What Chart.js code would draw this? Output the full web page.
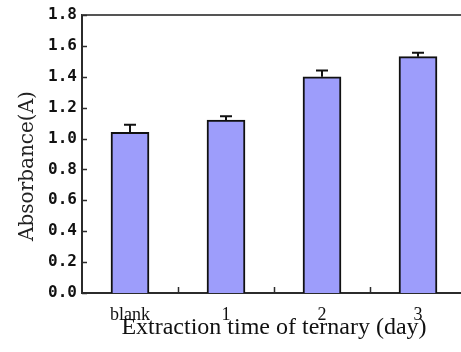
<!DOCTYPE html>
<html>
<head>
<meta charset="utf-8">
<script src="https://cdn.jsdelivr.net/npm/chart.js@4.4.0/dist/chart.umd.min.js"></script>
<style>
  html, body { margin: 0; padding: 0; background: #fff; overflow: hidden; }
  #wrap { position: relative; width: 466px; height: 352px; }
</style>
</head>
<body>
<div id="wrap"><canvas id="chart"></canvas></div>
<script>
const categories = ['blank', '1', '2', '3'];
const absorbance = [1.04, 1.12, 1.40, 1.53];
const errorUp = [0.05, 0.025, 0.04, 0.025];
const Y_MIN = 0;
const Y_MAX = 1.8;
const Y_STEP = 0.2;

const AXIS_COLOR = '#2b2b2b';
const BAR_FILL = '#9d9dfb';
const SLAB = '"DejaVu Serif", serif';
const SERIF = '"Liberation Serif", "Times New Roman", serif';

// error bars, inward tick marks, top frame line and the rotated y title
const decorations = {
  id: 'decorations',
  afterDatasetsDraw(chart) {
    const { ctx, chartArea, scales } = chart;
    const x = scales.x, y = scales.y;
    ctx.save();

    // upward error bars with caps
    ctx.strokeStyle = '#111';
    ctx.lineWidth = 2;
    chart.getDatasetMeta(0).data.forEach((bar, i) => {
      const top = y.getPixelForValue(absorbance[i] + errorUp[i]);
      ctx.beginPath();
      ctx.moveTo(bar.x, bar.y);
      ctx.lineTo(bar.x, top);
      ctx.moveTo(bar.x - 6, top);
      ctx.lineTo(bar.x + 6, top);
      ctx.stroke();
    });

    // top frame line
    ctx.strokeStyle = '#555';
    ctx.lineWidth = 2;
    ctx.beginPath();
    ctx.moveTo(chartArea.left, chartArea.top);
    ctx.lineTo(chartArea.right, chartArea.top);
    ctx.stroke();

    // inward ticks on the y axis
    ctx.strokeStyle = AXIS_COLOR;
    ctx.lineWidth = 1.5;
    y.ticks.forEach(t => {
      const py = Math.round(y.getPixelForValue(t.value)) + 0.5;
      ctx.beginPath();
      ctx.moveTo(chartArea.left, py);
      ctx.lineTo(chartArea.left + 5, py);
      ctx.stroke();
    });

    // inward ticks between categories on the x axis
    for (let i = 0; i < categories.length - 1; i++) {
      const px = Math.round((x.getPixelForTick(i) + x.getPixelForTick(i + 1)) / 2) + 0.5;
      ctx.beginPath();
      ctx.moveTo(px, chartArea.bottom);
      ctx.lineTo(px, chartArea.bottom - 6);
      ctx.stroke();
    }

    // y title
    ctx.fillStyle = '#222';
    ctx.font = '20px ' + SLAB;
    ctx.textAlign = 'center';
    ctx.textBaseline = 'alphabetic';
    ctx.translate(33, (chartArea.top + chartArea.bottom) / 2 + 12);
    ctx.rotate(-Math.PI / 2);
    ctx.fillText('Absorbance(A)', 0, 0);
    ctx.restore();
  }
};

const chart = new Chart(document.getElementById('chart').getContext('2d'), {
  type: 'bar',
  data: {
    labels: categories,
    datasets: [{
      label: 'Absorbance',
      data: absorbance,
      backgroundColor: BAR_FILL,
      borderColor: '#111',
      borderWidth: 2,
      barThickness: 38,
    }],
  },
  options: {
    responsive: true,
    maintainAspectRatio: false,
    animation: false,
    layout: { padding: { top: 15, right: 0, left: 0, bottom: 0 } },
    plugins: {
      legend: { display: false },
      tooltip: { enabled: false },
    },
    scales: {
      x: {
        grid: { display: false, drawTicks: false },
        border: { display: true, color: AXIS_COLOR, width: 2 },
        ticks: {
          color: '#111',
          padding: 11,
          font: { family: SERIF, size: 18 },
        },
        title: {
          display: true,
          text: 'Extraction time of ternary (day)',
          color: '#111',
          padding: { top: 0, bottom: 10 },
          font: { family: SERIF, size: 24 },
        },
        afterFit(scale) { scale.height = 59; },
      },
      y: {
        min: Y_MIN,
        max: Y_MAX,
        grid: { display: false, drawTicks: false },
        border: { display: true, color: AXIS_COLOR, width: 2 },
        ticks: {
          stepSize: Y_STEP,
          color: '#111',
          padding: 5,
          font: { family: '"DejaVu Sans Mono", monospace', size: 16, weight: 'bold' },
          callback: v => v.toFixed(1),
        },
        afterFit(scale) { scale.width = 82; },
      },
    },
  },
  plugins: [decorations],
});
</script>
</body>
</html>
